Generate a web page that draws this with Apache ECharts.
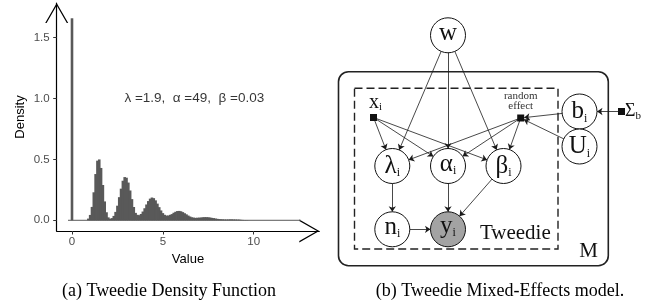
<!DOCTYPE html>
<html lang="en">
<head>
<meta charset="UTF-8">
<title>Tweedie density and mixed-effects model</title>
<script src="https://cdn.jsdelivr.net/npm/echarts@6/dist/echarts.min.js"></script>
</head>
<body style="margin:0">
<div id="mybox" style="width:656px;height:304px;"></div>
<script>
// ---- (a) histogram of Tweedie samples ----
var binWidth = 0.1;   // bin i is centred at i * binWidth
var density = [
    1.66, 0, 0, 0, 0, 0, 0, 0, 0, 0.014,                       // 0.0 - 0.9
    0.044, 0.11, 0.23, 0.38, 0.49, 0.50, 0.43, 0.29, 0.155, 0.066,      // 1.0 - 1.9
    0.024, 0.013, 0.018, 0.036, 0.069, 0.12, 0.19, 0.26, 0.325, 0.355,  // 2.0 - 2.9
    0.35, 0.31, 0.245, 0.174, 0.109, 0.061, 0.045, 0.042, 0.052, 0.072, // 3.0 - 3.9
    0.099, 0.13, 0.158, 0.178, 0.187, 0.182, 0.164, 0.137, 0.108, 0.081,// 4.0 - 4.9
    0.059, 0.045, 0.039, 0.039, 0.045, 0.051, 0.062, 0.07, 0.076, 0.077,// 5.0 - 5.9
    0.074, 0.067, 0.058, 0.049, 0.039, 0.031, 0.025, 0.022, 0.02, 0.021,// 6.0 - 6.9
    0.022, 0.023, 0.025, 0.026, 0.026, 0.025, 0.023, 0.02, 0.018, 0.015,// 7.0 - 7.9
    0.012, 0.01, 0.009, 0.008, 0.007, 0.007, 0.007, 0.008, 0.008, 0.007,// 8.0 - 8.9
    0.007, 0.006, 0.006, 0.004, 0.003, 0.002, 0.002, 0.001             // 9.0 - 9.7
];
var baseline = [[-0.22, 0], [12.6, 0]];
var xTicks = [0, 5, 10];
var yTicks = [0, 0.5, 1.0, 1.5];
var paramText = 'λ =1.9,  α =49,  β =0.03';
var paramPos = [6.73, 1.0];

// ---- (b) graphical model ----
var nodeNames = ['w', 'x', 're', 'b', 'U', 'S', 'lam', 'alp', 'bet', 'n', 'y'];
var nodeX = [448, 373.5, 520.7, 579.5, 579.5, 621.5, 392.3, 448, 503.5, 392.3, 448];
var nodeY = [35.3, 117.5, 118, 111.5, 146.5, 111.5, 166, 166, 166, 229.3, 229.3];
var nodeText = ['{m|w}', '{m2|x}{s2|i}', '{t|random}\n{t|effect}', '{m|b}{s|i}', '{m|U}{s|i}',
    '{m3|Σ}{s2|b}', '{m|λ}{s|i}', '{m|α}{s|i}', '{m|β}{s|i}', '{m|n}{s|i}', '{m|y}{s|i}'];
var nodeKind = ['latent', 'factor', 'factor', 'latent', 'latent', 'factor',
    'latent', 'latent', 'latent', 'latent', 'observed'];
var edgeFrom = ['w', 'w', 'w', 'x', 'x', 'x', 're', 're', 're', 'b', 'U', 'S', 'lam', 'alp', 'bet', 'n'];
var edgeTo = ['lam', 'alp', 'bet', 'lam', 'alp', 'bet', 'lam', 'alp', 'bet', 're', 're', 'b', 'n', 'y', 'y', 'y'];
var plates = [[338.5, 71.7, 608.3, 265.7], [354.5, 88.3, 558, 249]];
var plateNames = ['M', 'Tweedie'];
var captions = ['(a) Tweedie Density Function', '(b) Tweedie Mixed-Effects model.'];

var serif = '"Liberation Serif", "DejaVu Serif", serif';
var sans = '"Liberation Sans", Arial, sans-serif';

var mychart = echarts.init(document.getElementById('mybox'));

// open arrow head for the hand drawn axes (tip at the top)
var chevron = 'path://M11.5,0 L23,20 L21.6,20 L11.5,2.4 L1.4,20 L0,20 Z';

var bars = density.map(function (d, i) { return [i * binWidth, d]; });

var nodes = nodeNames.map(function (name, i) {
    var kind = nodeKind[i];
    var item = {
        name: name,
        value: [nodeX[i], nodeY[i]],
        label: {formatter: nodeText[i]}
    };
    if (kind === 'factor') {
        item.symbol = 'rect';
        item.symbolSize = 7;
        item.itemStyle = {color: '#111', borderWidth: 0};
        if (name === 'S') {
            item.label.position = 'right';
            item.label.distance = 0;
        } else {
            item.label.position = 'top';
            item.label.distance = name === 'x' ? 1 : 3;
            if (name === 'x') item.label.offset = [2, 0];
        }
    } else {
        item.symbol = 'circle';
        item.symbolSize = 35;
        item.itemStyle = {color: kind === 'observed' ? '#a3a3a3' : '#fff', borderColor: '#111', borderWidth: 1};
        item.label.position = 'inside';
        if (['w', 'alp', 'n'].indexOf(name) >= 0) item.label.offset = [0, -2];
        if (name === 'y') item.label.offset = [0, -3];
    }
    return item;
});

var links = edgeFrom.map(function (s, i) { return {source: s, target: edgeTo[i]}; });

mychart.setOption({
    animation: false,
    grid: [
        {left: 56.7, right: 656 - 319.3, top: 3, bottom: 304 - 231},
        {left: 0, right: 0, top: 0, bottom: 0}
    ],
    xAxis: [{
        gridIndex: 0,
        type: 'value',
        min: -0.842,
        max: 13.61,
        splitLine: {show: false},
        axisLine: {
            show: true,
            onZero: false,
            lineStyle: {color: '#000', width: 1.2},
            symbol: ['none', chevron],
            symbolSize: [23, 20],
            symbolOffset: [0, -10]
        },
        axisTick: {show: true, customValues: xTicks, length: 3.5, lineStyle: {color: '#333'}},
        axisLabel: {customValues: xTicks, color: '#4d4d4d', fontSize: 11.5, fontFamily: sans, margin: 5},
        name: 'Value',
        nameLocation: 'middle',
        nameGap: 19,
        nameTextStyle: {color: '#000', fontSize: 13, fontFamily: sans}
    }, {
        gridIndex: 1, type: 'value', min: 0, max: 656, show: false
    }],
    yAxis: [{
        gridIndex: 0,
        type: 'value',
        min: -0.088,
        max: 1.7855,
        splitLine: {show: false},
        axisLine: {
            show: true,
            onZero: false,
            lineStyle: {color: '#000', width: 1.2},
            symbol: ['none', chevron],
            symbolSize: [23, 20],
            symbolOffset: [0, -10]
        },
        axisTick: {show: true, customValues: yTicks, length: 3.5, lineStyle: {color: '#333'}},
        axisLabel: {
            customValues: yTicks, color: '#4d4d4d', fontSize: 11.5, fontFamily: sans, margin: 7,
            formatter: function (v) { return v.toFixed(1); }
        },
        name: 'Density',
        nameLocation: 'middle',
        nameGap: 30,
        nameTextStyle: {color: '#000', fontSize: 13, fontFamily: sans}
    }, {
        gridIndex: 1, type: 'value', min: 0, max: 304, inverse: true, show: false
    }],
    series: [{
        // zero height bins show up as a flat line
        type: 'line',
        xAxisIndex: 0, yAxisIndex: 0,
        data: baseline,
        symbol: 'none',
        silent: true,
        lineStyle: {color: '#595959', width: 1}
    }, {
        type: 'bar',
        xAxisIndex: 0, yAxisIndex: 0,
        data: bars,
        barWidth: 2.6,
        silent: true,
        itemStyle: {color: '#595959'}
    }, {
        type: 'scatter',
        xAxisIndex: 0, yAxisIndex: 0,
        data: [paramPos],
        symbolSize: 1,
        silent: true,
        itemStyle: {color: 'transparent'},
        label: {
            show: true, position: 'inside', formatter: paramText,
            color: '#000', fontSize: 13.5, fontFamily: sans
        }
    }, {
        // plates
        type: 'custom',
        coordinateSystem: 'cartesian2d',
        xAxisIndex: 1, yAxisIndex: 1,
        data: plates,
        clip: false,
        silent: true,
        z: 1,
        renderItem: function (params, api) {
            var p0 = api.coord([api.value(0), api.value(1)]);
            var p1 = api.coord([api.value(2), api.value(3)]);
            var outer = params.dataIndex === 0;
            return {
                type: 'group',
                children: [{
                    type: 'rect',
                    shape: {x: p0[0], y: p0[1], width: p1[0] - p0[0], height: p1[1] - p0[1], r: outer ? 10 : 0},
                    style: {fill: 'none', stroke: '#222', lineWidth: outer ? 1.6 : 1.4, lineDash: outer ? null : [8, 4]}
                }, {
                    type: 'text',
                    x: p1[0] - (outer ? 10.3 : 7.3),
                    y: p1[1] - (outer ? 14.4 : 15.2),
                    style: {
                        text: plateNames[params.dataIndex],
                        align: 'right', verticalAlign: 'middle',
                        font: '21px ' + serif, fill: '#111'
                    }
                }]
            };
        }
    }, {
        type: 'graph',
        coordinateSystem: 'cartesian2d',
        xAxisIndex: 1, yAxisIndex: 1,
        layout: 'none',
        silent: true,
        z: 3,
        data: nodes,
        links: links,
        edgeSymbol: ['none', 'arrow'],
        edgeSymbolSize: [0, 5.5],
        lineStyle: {color: '#1a1a1a', width: 0.8, opacity: 1, curveness: 0},
        label: {
            show: true,
            color: '#111',
            rich: {
                m: {fontFamily: serif, fontSize: 25, lineHeight: 26, color: '#111'},
                s: {fontFamily: serif, fontSize: 12, verticalAlign: 'bottom', color: '#111'},
                m2: {fontFamily: serif, fontSize: 20, lineHeight: 20, color: '#111'},
                m3: {fontFamily: serif, fontSize: 18, lineHeight: 20, color: '#111'},
                s2: {fontFamily: serif, fontSize: 11, verticalAlign: 'bottom', color: '#111'},
                t: {fontFamily: serif, fontSize: 11, lineHeight: 10, color: '#333'}
            }
        }
    }],
    graphic: [{
        type: 'text', x: 169, y: 291.5,
        style: {text: captions[0], align: 'center', verticalAlign: 'middle', font: '18px ' + serif, fill: '#000'}
    }, {
        type: 'text', x: 500, y: 291.5,
        style: {text: captions[1], align: 'center', verticalAlign: 'middle', font: '18px ' + serif, fill: '#000'}
    }]
});
</script>
</body>
</html>
